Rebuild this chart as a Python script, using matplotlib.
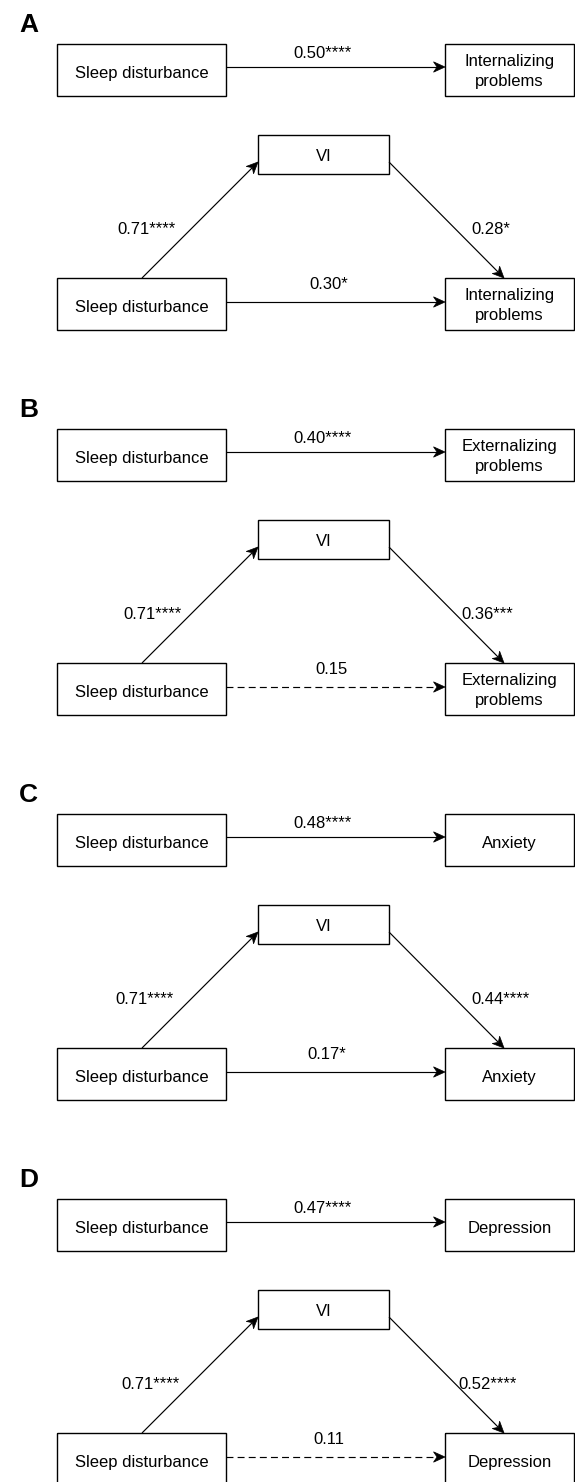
import matplotlib
matplotlib.use("Agg")
import matplotlib.pyplot as plt
from matplotlib.patches import Rectangle, Polygon
import numpy as np

# ---------------- data ----------------
panel_labels = ["A", "B", "C", "D"]
predictor = "Sleep disturbance"
mediator = "VI"
outcomes = ["Internalizing\nproblems", "Externalizing\nproblems", "Anxiety", "Depression"]
total_effects = ["0.50****", "0.40****", "0.48****", "0.47****"]
a_paths = ["0.71****", "0.71****", "0.71****", "0.71****"]
b_paths = ["0.28*", "0.36***", "0.44****", "0.52****"]
direct_effects = ["0.30*", "0.15", "0.17*", "0.11"]
direct_significant = [True, False, True, False]

# ---------------- layout (pixels, relative to each panel) ----------------
W, H = 575, 1482
PITCH = 385
boxes = {
    "top_left": (57, 44, 169, 52),
    "top_right": (445, 44, 129, 52),
    "vi": (258, 135, 131, 39),
    "bot_left": (57, 278, 169, 52),
    "bot_right": (445, 278, 129, 52),
}
# per-panel label x positions (layout)
a_label_x = [147, 153, 145, 151]
b_label_x = [491, 487, 501, 488]
c_label_x = [329, 331, 327, 329]
total_label_x = 323

plt.rcParams["font.family"] = ["Liberation Sans", "DejaVu Sans"]
plt.rcParams["lines.scale_dashes"] = False

fig = plt.figure(figsize=(W / 100, H / 100), dpi=100)
ax = fig.add_axes([0, 0, 1, 1])
ax.set_xlim(0, W)
ax.set_ylim(H, 0)
ax.axis("off")

FS = 12
BOX_LW = 1.0
ARR_LW = 0.85


def draw_box(key, oy):
    x, y, w, h = boxes[key]
    ax.add_patch(Rectangle((x, y + oy), w, h, fill=False, edgecolor="black",
                           linewidth=BOX_LW, zorder=2))


def box_text(key, oy, text):
    x, y, w, h = boxes[key]
    cx = x + w / 2
    lines = text.split("\n")
    if len(lines) == 1:
        bases = [y + 34]
    else:
        bases = [y + 22, y + 42]
    for ln, b in zip(lines, bases):
        ax.text(cx, b + oy, ln, ha="center", va="baseline", fontsize=FS,
                color="black", zorder=3)


def arrow(p0, p1, dashed=False):
    p0 = np.array(p0, float)
    p1 = np.array(p1, float)
    d = p1 - p0
    L = np.hypot(*d)
    u = d / L
    n = np.array([-u[1], u[0]])
    hl, hw, notch = 11.5, 5.2, 8.0
    tip = p1
    back_l = p1 - hl * u + hw * n
    back_r = p1 - hl * u - hw * n
    nt = p1 - notch * u
    ls = (0, (5, 3)) if dashed else "-"
    ax.plot([p0[0], nt[0]], [p0[1], nt[1]], color="black", linewidth=ARR_LW,
            linestyle=ls, zorder=2, solid_capstyle="butt")
    ax.add_patch(Polygon([tip, back_l, nt, back_r], closed=True,
                         facecolor="black", edgecolor="black", linewidth=0.5,
                         zorder=3))


def label(x, y_center, text):
    # y_center is visual centre of digits; baseline = centre + half cap height
    ax.text(x, y_center + 6, text, ha="center", va="baseline", fontsize=FS,
            color="black", zorder=3)


for i in range(4):
    oy = i * PITCH
    ax.text(19, 32 + oy, panel_labels[i], ha="left", va="baseline",
            fontsize=19, fontweight="bold", color="black")

    for k in ("top_left", "top_right", "vi", "bot_left", "bot_right"):
        draw_box(k, oy)
    box_text("top_left", oy, predictor)
    box_text("top_right", oy, outcomes[i])
    box_text("vi", oy - 8, mediator)
    box_text("bot_left", oy, predictor)
    box_text("bot_right", oy, outcomes[i])

    tl = boxes["top_left"]
    tr = boxes["top_right"]
    vi = boxes["vi"]
    bl = boxes["bot_left"]
    br = boxes["bot_right"]

    # total effect model
    y_top = tl[1] + 23 + oy
    arrow((tl[0] + tl[2], y_top), (tr[0], y_top))
    label(total_label_x, tl[1] + 8 + oy, total_effects[i])

    # mediation model
    y_vi = vi[1] + 27 + oy
    arrow((142, bl[1] + oy), (vi[0], y_vi))
    arrow((vi[0] + vi[2], y_vi), (504, br[1] + oy))
    label(a_label_x[i], 228 + oy, a_paths[i])
    label(b_label_x[i], 228 + oy, b_paths[i])

    y_bot = bl[1] + 24 + oy
    arrow((bl[0] + bl[2], y_bot), (br[0], y_bot), dashed=not direct_significant[i])
    label(c_label_x[i], bl[1] + 5 + oy, direct_effects[i])

fig.savefig("out.png", dpi=100)
